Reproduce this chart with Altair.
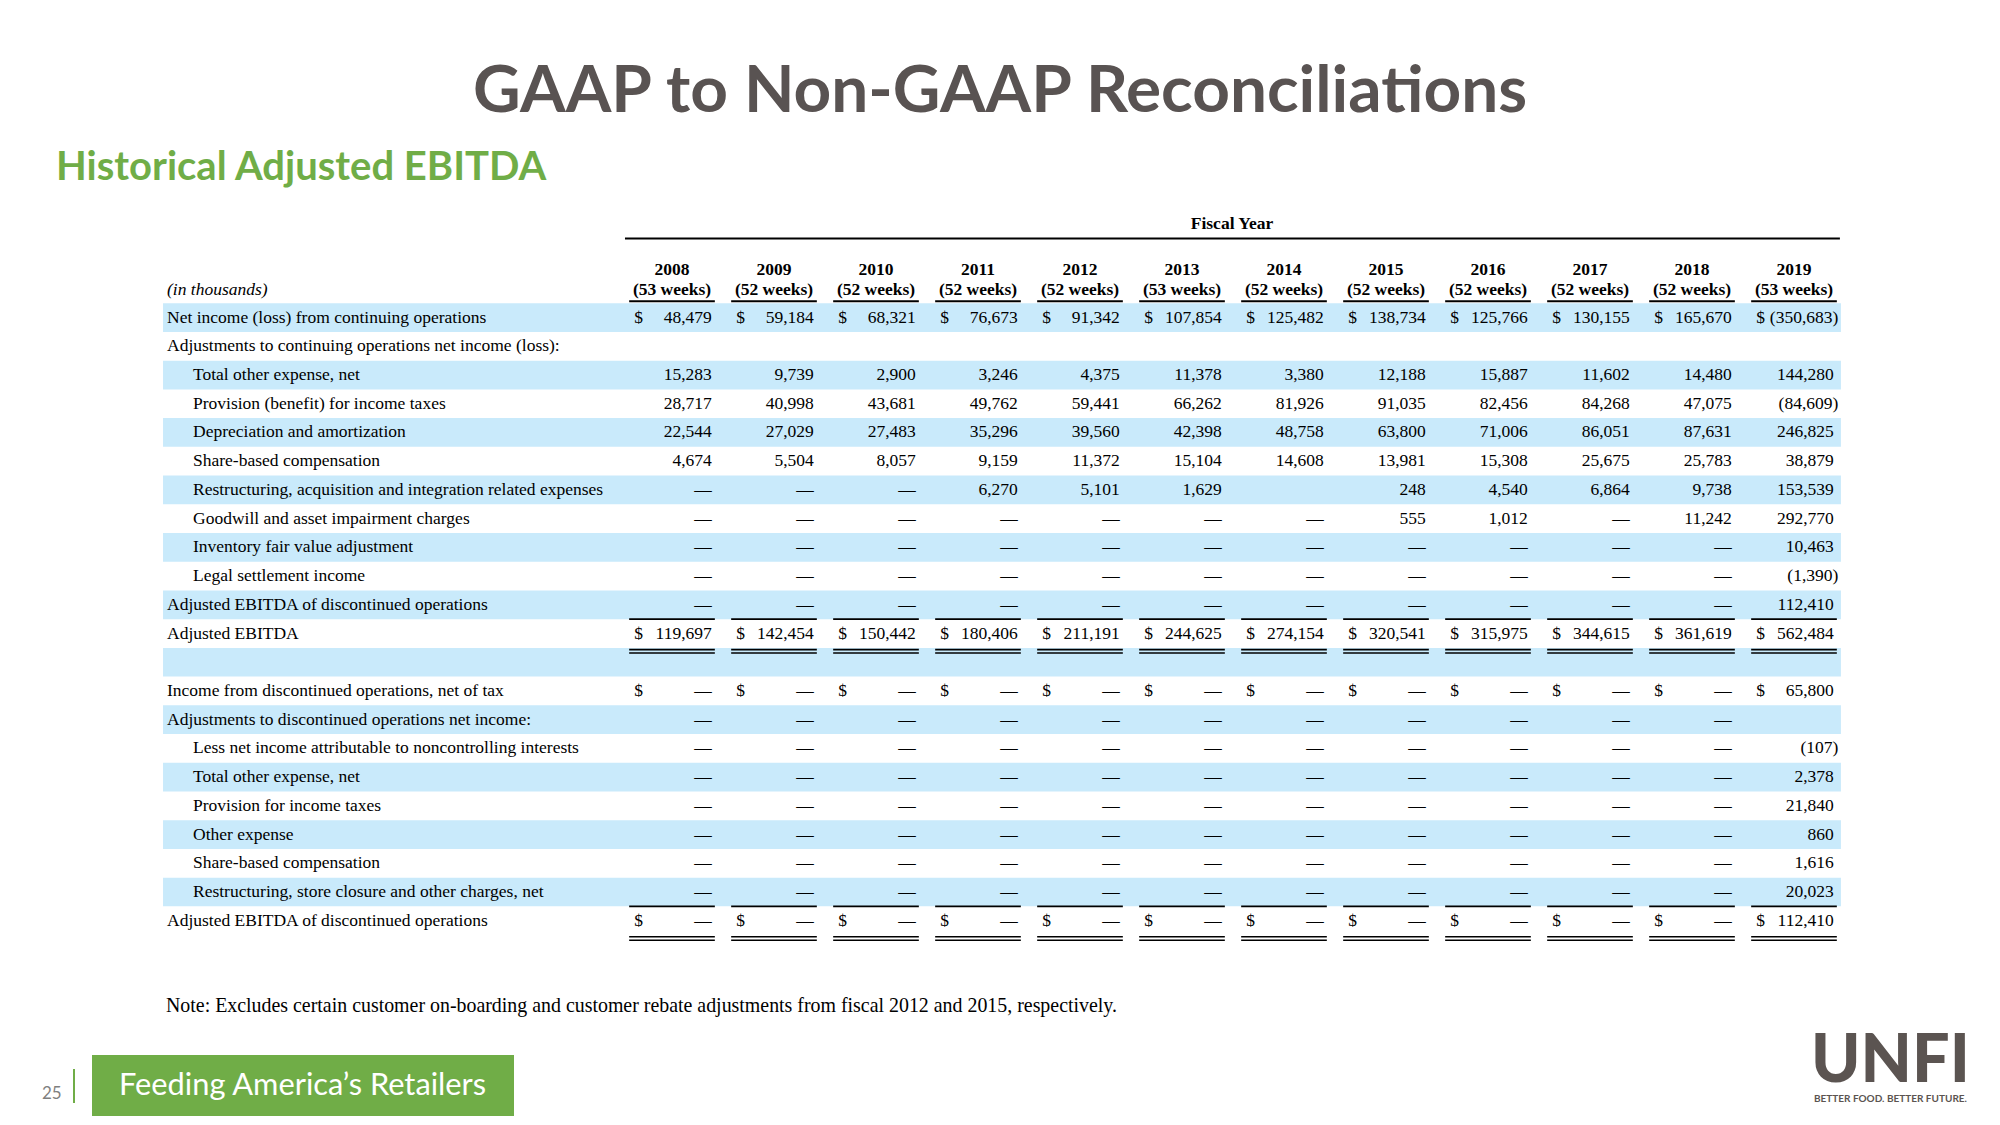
import altair as alt
import pandas as pd

W, H = 1984, 1109

TITLE = "GAAP to Non-GAAP Reconciliations"
SUBTITLE = "Historical Adjusted EBITDA"
NOTE = ("Note: Excludes certain customer on-boarding and customer rebate adjustments "
        "from fiscal 2012 and 2015, respectively.")
FOOTER = "Feeding America\u2019s Retailers"
PAGE = "25"

YEARS = ["2008", "2009", "2010", "2011", "2012", "2013",
         "2014", "2015", "2016", "2017", "2018", "2019"]
WEEKS = ["(53 weeks)", "(52 weeks)", "(52 weeks)", "(52 weeks)", "(52 weeks)", "(53 weeks)",
         "(52 weeks)", "(52 weeks)", "(52 weeks)", "(52 weeks)", "(52 weeks)", "(53 weeks)"]

ROW_LABELS = [
    "Net income (loss) from continuing operations",
    "Adjustments to continuing operations net income (loss):",
    "Total other expense, net",
    "Provision (benefit) for income taxes",
    "Depreciation and amortization",
    "Share-based compensation",
    "Restructuring, acquisition and integration related expenses",
    "Goodwill and asset impairment charges",
    "Inventory fair value adjustment",
    "Legal settlement income",
    "Adjusted EBITDA of discontinued operations",
    "Adjusted EBITDA",
    "",
    "Income from discontinued operations, net of tax",
    "Adjustments to discontinued operations net income:",
    "Less net income attributable to noncontrolling interests",
    "Total other expense, net",
    "Provision for income taxes",
    "Other expense",
    "Share-based compensation",
    "Restructuring, store closure and other charges, net",
    "Adjusted EBITDA of discontinued operations",
]
ROW_INDENT = [0, 0, 1, 1, 1, 1, 1, 1, 1, 1, 0, 0, 0, 0, 0, 1, 1, 1, 1, 1, 1, 0]
DOLLAR_ROWS = [0, 11, 13, 21]
TOTAL_ROWS = [11, 21]

# 0 is shown as a dash, None as an empty cell
net_income = [48479, 59184, 68321, 76673, 91342, 107854, 125482, 138734, 125766, 130155, 165670, -350683]
total_other = [15283, 9739, 2900, 3246, 4375, 11378, 3380, 12188, 15887, 11602, 14480, 144280]
provision = [28717, 40998, 43681, 49762, 59441, 66262, 81926, 91035, 82456, 84268, 47075, -84609]
depreciation = [22544, 27029, 27483, 35296, 39560, 42398, 48758, 63800, 71006, 86051, 87631, 246825]
share_based = [4674, 5504, 8057, 9159, 11372, 15104, 14608, 13981, 15308, 25675, 25783, 38879]
restructuring = [0, 0, 0, 6270, 5101, 1629, None, 248, 4540, 6864, 9738, 153539]
goodwill = [0, 0, 0, 0, 0, 0, 0, 555, 1012, 0, 11242, 292770]
inventory = [0, 0, 0, 0, 0, 0, 0, 0, 0, 0, 0, 10463]
legal = [0, 0, 0, 0, 0, 0, 0, 0, 0, 0, 0, -1390]
disc_ebitda = [0, 0, 0, 0, 0, 0, 0, 0, 0, 0, 0, 112410]
adj_ebitda = [119697, 142454, 150442, 180406, 211191, 244625, 274154, 320541, 315975, 344615, 361619, 562484]
disc_income = [0, 0, 0, 0, 0, 0, 0, 0, 0, 0, 0, 65800]
disc_adjust = [0, 0, 0, 0, 0, 0, 0, 0, 0, 0, 0, None]
disc_nci = [0, 0, 0, 0, 0, 0, 0, 0, 0, 0, 0, -107]
disc_other = [0, 0, 0, 0, 0, 0, 0, 0, 0, 0, 0, 2378]
disc_tax = [0, 0, 0, 0, 0, 0, 0, 0, 0, 0, 0, 21840]
disc_other_exp = [0, 0, 0, 0, 0, 0, 0, 0, 0, 0, 0, 860]
disc_share = [0, 0, 0, 0, 0, 0, 0, 0, 0, 0, 0, 1616]
disc_restr = [0, 0, 0, 0, 0, 0, 0, 0, 0, 0, 0, 20023]
disc_total = [0, 0, 0, 0, 0, 0, 0, 0, 0, 0, 0, 112410]

ROW_VALUES = [net_income, None, total_other, provision, depreciation, share_based,
              restructuring, goodwill, inventory, legal, disc_ebitda, adj_ebitda, None,
              disc_income, disc_adjust, disc_nci, disc_other, disc_tax, disc_other_exp,
              disc_share, disc_restr, disc_total]

# ---------- layout (column / row units) ----------
COL0_PX, COL_PX = 664.0, 102.0
ROW0_PX, ROW_PX = 309.6, 28.72
XS = alt.Scale(domain=[-COL0_PX / COL_PX, (W - COL0_PX) / COL_PX], nice=False, zero=False)
YS = alt.Scale(domain=[-ROW0_PX / ROW_PX, (H - ROW0_PX) / ROW_PX], nice=False, zero=False, reverse=True)

LABEL_X = [-4.951, -4.696]
BAND_L, BAND_R = -4.99, 11.46
VAL_R = 0.39
PAREN = 0.045
DOL_L = -0.37
HALF = 0.42

BLUE = "#c9eafb"
SERIF = "Liberation Serif"
FS = 17.5


def fmt(v):
    if v == 0:
        return "\u2014"
    if v < 0:
        return "({:,})".format(-v)
    return "{:,}".format(v)


bands = pd.DataFrame([{"x": BAND_L, "x2": BAND_R, "y": i - 0.5, "y2": i + 0.5}
                      for i in range(len(ROW_LABELS)) if i % 2 == 0])
labels = pd.DataFrame([{"x": LABEL_X[ROW_INDENT[i]], "y": i, "t": ROW_LABELS[i]}
                       for i in range(len(ROW_LABELS)) if ROW_LABELS[i]])
vals = []
for i, row in enumerate(ROW_VALUES):
    if row is None:
        continue
    for j, v in enumerate(row):
        if v is None:
            continue
        vals.append({"x": j + VAL_R + (PAREN if v < 0 else 0), "y": i, "t": fmt(v)})
vals = pd.DataFrame(vals)
dollars = pd.DataFrame([{"x": j + DOL_L, "y": i, "t": "$"} for i in DOLLAR_ROWS for j in range(len(YEARS))])
heads = pd.DataFrame([{"x": j, "y1": -1.657, "y2": -0.961, "yr": YEARS[j], "wk": WEEKS[j]}
                      for j in range(len(YEARS))])

rules = [{"x": -0.461, "x2": 11.45, "y": -2.754, "w": 2.0}]
for j in range(len(YEARS)):
    rules.append({"x": j - HALF, "x2": j + HALF, "y": -0.57, "w": 2.2})
    for r in TOTAL_ROWS:
        rules.append({"x": j - HALF, "x2": j + HALF, "y": r - 0.5, "w": 1.6})
        rules.append({"x": j - HALF, "x2": j + HALF, "y": r + 0.56, "w": 1.6})
        rules.append({"x": j - HALF, "x2": j + HALF, "y": r + 0.68, "w": 1.6})
rules = pd.DataFrame(rules)


def X(f="x"):
    return alt.X(f, type="quantitative", scale=XS, axis=None)


def Y(f="y"):
    return alt.Y(f, type="quantitative", scale=YS, axis=None)


band_layer = alt.Chart(bands).mark_rect(color=BLUE).encode(
    x=X(), x2="x2", y=Y(), y2="y2")

label_layer = alt.Chart(labels).mark_text(
    align="left", baseline="middle", font=SERIF, fontSize=FS, color="black").encode(
    x=X(), y=Y(), text="t")

val_layer = alt.Chart(vals).mark_text(
    align="right", baseline="middle", font=SERIF, fontSize=FS, color="black").encode(
    x=X(), y=Y(), text="t")

dollar_layer = alt.Chart(dollars).mark_text(
    align="left", baseline="middle", font=SERIF, fontSize=FS, color="black").encode(
    x=X(), y=Y(), text="t")

year_layer = alt.Chart(heads).mark_text(
    align="center", baseline="middle", font=SERIF, fontSize=FS, fontWeight="bold", color="black").encode(
    x=X(), y=Y("y1"), text="yr")

week_layer = alt.Chart(heads).mark_text(
    align="center", baseline="middle", font=SERIF, fontSize=FS, fontWeight="bold", color="black").encode(
    x=X(), y=Y("y2"), text="wk")

misc_head = pd.DataFrame([{"x": 5.49, "y": -3.26, "t": "Fiscal Year"}])
fiscal_layer = alt.Chart(misc_head).mark_text(
    align="center", baseline="middle", font=SERIF, fontSize=FS, fontWeight="bold", color="black").encode(
    x=X(), y=Y(), text="t")

thous = pd.DataFrame([{"x": LABEL_X[0], "y": -0.961, "t": "(in thousands)"}])
thous_layer = alt.Chart(thous).mark_text(
    align="left", baseline="middle", font=SERIF, fontSize=FS, fontStyle="italic", color="black").encode(
    x=X(), y=Y(), text="t")

rule_layer = alt.Chart(rules).mark_rule(color="black").encode(
    x=X(), x2="x2", y=Y(), strokeWidth=alt.StrokeWidth("w:Q", scale=None, legend=None))

# ---------- slide decorations ----------
def txt(t, x, y, **kw):
    return alt.Chart(pd.DataFrame({"t": [t]})).mark_text(**kw).encode(
        text="t", x=alt.value(x), y=alt.value(y))


title_layer = txt(TITLE, 992, 104, align="center", baseline="alphabetic",
                  font="Lato", fontWeight="bold", fontSize=65.7, color="#595352")
sub_layer = txt(SUBTITLE, 48, 172, align="left", baseline="alphabetic",
                font="Lato", fontWeight="bold", fontSize=40, color="#70ad47")
note_layer = txt(NOTE, 158, 998, align="left", baseline="middle",
                 font=SERIF, fontSize=19.9, color="black")

footer_box = alt.Chart(pd.DataFrame({"a": [1]})).mark_rect(color="#70ad47").encode(
    x=alt.value(84), x2=alt.value(506), y=alt.value(1047), y2=alt.value(1108))
footer_text = txt(FOOTER, 111, 1078, align="left", baseline="middle",
                  font="Lato", fontSize=30.8, color="white")
page_text = txt(PAGE, 34, 1086, align="left", baseline="middle",
                font="Lato", fontSize=17, color="#7f7f7f")
vline = alt.Chart(pd.DataFrame({"a": [1]})).mark_rule(color="#70ad47", strokeWidth=2).encode(
    x=alt.value(66), y=alt.value(1061), y2=alt.value(1095))

logo = txt("UNFI", 1803, 1074, align="left", baseline="alphabetic",
           font="Lato", fontWeight=900, fontSize=66.5, color="#5b5451")
tagline = txt("BETTER FOOD. BETTER FUTURE.", 1806, 1091, align="left", baseline="middle",
              font="Lato", fontWeight="bold", fontSize=10, color="#5b5451")

chart = alt.layer(
    band_layer, rule_layer, label_layer, val_layer, dollar_layer, year_layer, week_layer,
    fiscal_layer, thous_layer, title_layer, sub_layer, note_layer,
    footer_box, footer_text, page_text, vline, logo, tagline,
).properties(width=W, height=H, padding=0, autosize="none", background="white"
).configure_view(stroke=None)

chart.save("out.html", embed_options={"renderer": "svg", "actions": False})
